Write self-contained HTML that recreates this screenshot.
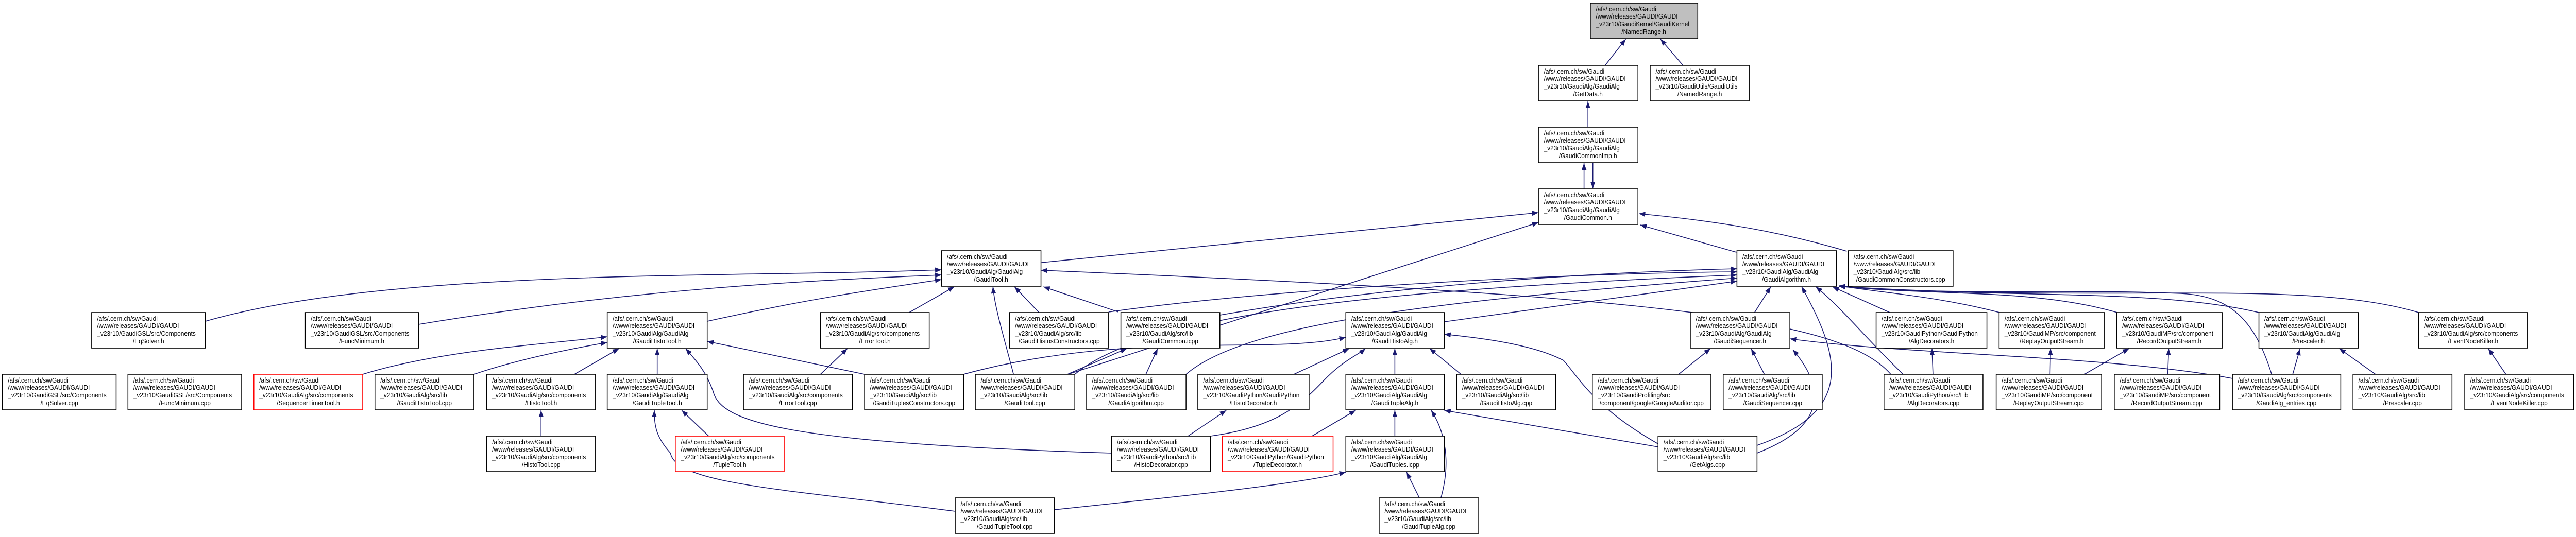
<!DOCTYPE html>
<html><head><meta charset="utf-8"><style>
html,body{margin:0;padding:0;background:#fff;width:100%;height:100%;overflow:hidden}
svg{display:block;width:100vw;height:100vh}
.n rect{fill:#fff;stroke:#000;stroke-width:1.6}
.n.g rect{fill:#bfbfbf}
.n.r rect{stroke:#ff0000}
text{font-family:"Liberation Sans",sans-serif;font-size:12.5px;fill:#000}
.e{fill:none;stroke:#191970;stroke-width:1.6}
</style></head><body>
<svg viewBox="0 0 5256 1043" preserveAspectRatio="none" xmlns="http://www.w3.org/2000/svg">
<defs><marker id="a" markerUnits="userSpaceOnUse" markerWidth="14" markerHeight="10" refX="13" refY="5" orient="auto"><path d="M0,0 L13,5 L0,10 z" fill="#191970"/></marker></defs>
<g id="edges" marker-end="url(#a)">
<path class="e" d="M3275,127 L3317,76"/>
<path class="e" d="M3434,127 L3388,76"/>
<path class="e" d="M3240,247 L3240,197"/>
<path class="e" d="M3232,367 L3232,317"/>
<path class="e" d="M3250,316 L3250,366"/>
<path class="e" d="M2125,510 L3139,413"/>
<path class="e" d="M2179,727 L3139,432"/>
<path class="e" d="M3543,490 L3347,437"/>
<path class="e" d="M3768,488 C3600,440 3450,425 3344,415"/>
<path class="e" d="M419,624 C800,520 1500,540 1921,524"/>
<path class="e" d="M854,630 C1300,560 1650,545 1921,534"/>
<path class="e" d="M1443,624 C1650,580 1800,560 1921,543"/>
<path class="e" d="M1855,607 L1947,557"/>
<path class="e" d="M2068,727 C2050,660 2030,600 2026,557"/>
<path class="e" d="M2120,607 L2070,557"/>
<path class="e" d="M2282,606 L2129,557"/>
<path class="e" d="M3858,727 C3760,620 3400,575 2124,525"/>
<path class="e" d="M740,727 C900,680 1100,670 1239,654"/>
<path class="e" d="M967,727 C1050,700 1150,680 1239,665"/>
<path class="e" d="M1172,727 L1263,677"/>
<path class="e" d="M1341,727 L1341,677"/>
<path class="e" d="M1764,727 L1443,663"/>
<path class="e" d="M2268,880 C1600,860 1470,820 1455,760 C1440,720 1420,700 1399,677"/>
<path class="e" d="M1446,847 L1391,797"/>
<path class="e" d="M1949,993 C1600,950 1380,940 1368,880 C1340,850 1335,830 1335,797"/>
<path class="e" d="M1104,847 L1104,797"/>
<path class="e" d="M1674,727 L1729,677"/>
<path class="e" d="M2178,727 L2299,677"/>
<path class="e" d="M2338,727 L2362,677"/>
<path class="e" d="M2262,606 C2600,560 3200,530 3544,528"/>
<path class="e" d="M2489,612 C2800,560 3200,530 3544,522"/>
<path class="e" d="M2193,727 C2350,600 2900,560 3544,534"/>
<path class="e" d="M2420,727 C2550,620 3000,580 3544,540"/>
<path class="e" d="M2947,625 L3544,546"/>
<path class="e" d="M3580,607 L3613,557"/>
<path class="e" d="M3585,865 C3780,800 3760,700 3676,557"/>
<path class="e" d="M3883,727 C3800,650 3760,600 3705,557"/>
<path class="e" d="M3856,607 L3739,557"/>
<path class="e" d="M4635,727 C4600,620 4550,575 4450,570 C4200,560 3950,575 3752,555"/>
<path class="e" d="M4080,607 C3950,575 3850,570 3752,555"/>
<path class="e" d="M4320,607 C4150,560 3950,575 3752,556"/>
<path class="e" d="M4609,607 C4400,560 4100,580 3752,556"/>
<path class="e" d="M4935,607 C4700,540 4300,590 3752,556"/>
<path class="e" d="M3425,727 L3490,677"/>
<path class="e" d="M3600,727 L3573,677"/>
<path class="e" d="M3585,880 C3720,830 3730,760 3658,679"/>
<path class="e" d="M4555,735 C4300,690 3900,690 3652,658"/>
<path class="e" d="M2640,727 L2753,677"/>
<path class="e" d="M2846,727 L2846,677"/>
<path class="e" d="M2981,727 L2917,677"/>
<path class="e" d="M3383,862 C3250,790 3220,731 3190,700 C3120,665 3000,655 2947,649"/>
<path class="e" d="M2470,847 C2600,830 2650,790 2700,740 C2740,700 2770,690 2786,677"/>
<path class="e" d="M1966,727 C2300,640 2600,690 2746,655"/>
<path class="e" d="M2677,847 L2766,797"/>
<path class="e" d="M2846,847 L2846,797"/>
<path class="e" d="M2940,967 C2960,900 2950,840 2920,797"/>
<path class="e" d="M3383,868 L2947,797"/>
<path class="e" d="M2424,847 L2502,797"/>
<path class="e" d="M2896,967 L2870,917"/>
<path class="e" d="M2151,990 C2450,960 2650,940 2746,917"/>
<path class="e" d="M3944,727 L3942,677"/>
<path class="e" d="M4183,727 L4184,677"/>
<path class="e" d="M4253,727 L4344,677"/>
<path class="e" d="M4423,727 L4425,677"/>
<path class="e" d="M4678,727 L4693,677"/>
<path class="e" d="M4847,727 L4773,677"/>
<path class="e" d="M5113,727 L5077,677"/>
</g>
<g id="nodes">
<g class="n g"><rect x="3245" y="6" width="219" height="69"/><text x="3256" y="22">/afs/.cern.ch/sw/Gaudi</text><text x="3256" y="36">/www/releases/GAUDI/GAUDI</text><text x="3256" y="51">_v23r10/GaudiKernel/GaudiKernel</text><text x="3354" y="66" text-anchor="middle">/NamedRange.h</text></g>
<g class="n"><rect x="3139" y="127" width="203" height="69"/><text x="3150" y="143">/afs/.cern.ch/sw/Gaudi</text><text x="3150" y="157">/www/releases/GAUDI/GAUDI</text><text x="3150" y="172">_v23r10/GaudiAlg/GaudiAlg</text><text x="3240" y="187" text-anchor="middle">/GetData.h</text></g>
<g class="n"><rect x="3367" y="127" width="202" height="69"/><text x="3378" y="143">/afs/.cern.ch/sw/Gaudi</text><text x="3378" y="157">/www/releases/GAUDI/GAUDI</text><text x="3378" y="172">_v23r10/GaudiUtils/GaudiUtils</text><text x="3468" y="187" text-anchor="middle">/NamedRange.h</text></g>
<g class="n"><rect x="3139" y="247" width="203" height="69"/><text x="3150" y="263">/afs/.cern.ch/sw/Gaudi</text><text x="3150" y="277">/www/releases/GAUDI/GAUDI</text><text x="3150" y="292">_v23r10/GaudiAlg/GaudiAlg</text><text x="3240" y="307" text-anchor="middle">/GaudiCommonImp.h</text></g>
<g class="n"><rect x="3139" y="367" width="203" height="69"/><text x="3150" y="383">/afs/.cern.ch/sw/Gaudi</text><text x="3150" y="397">/www/releases/GAUDI/GAUDI</text><text x="3150" y="412">_v23r10/GaudiAlg/GaudiAlg</text><text x="3240" y="427" text-anchor="middle">/GaudiCommon.h</text></g>
<g class="n"><rect x="1921" y="487" width="203" height="69"/><text x="1932" y="503">/afs/.cern.ch/sw/Gaudi</text><text x="1932" y="517">/www/releases/GAUDI/GAUDI</text><text x="1932" y="532">_v23r10/GaudiAlg/GaudiAlg</text><text x="2022" y="547" text-anchor="middle">/GaudiTool.h</text></g>
<g class="n"><rect x="3544" y="487" width="203" height="69"/><text x="3555" y="503">/afs/.cern.ch/sw/Gaudi</text><text x="3555" y="517">/www/releases/GAUDI/GAUDI</text><text x="3555" y="532">_v23r10/GaudiAlg/GaudiAlg</text><text x="3645" y="547" text-anchor="middle">/GaudiAlgorithm.h</text></g>
<g class="n"><rect x="3771" y="487" width="214" height="69"/><text x="3782" y="503">/afs/.cern.ch/sw/Gaudi</text><text x="3782" y="517">/www/releases/GAUDI/GAUDI</text><text x="3782" y="532">_v23r10/GaudiAlg/src/lib</text><text x="3878" y="547" text-anchor="middle">/GaudiCommonConstructors.cpp</text></g>

<g class="n"><rect x="187" y="607" width="232" height="69"/><text x="198" y="623">/afs/.cern.ch/sw/Gaudi</text><text x="198" y="637">/www/releases/GAUDI/GAUDI</text><text x="198" y="652">_v23r10/GaudiGSL/src/Components</text><text x="303" y="667" text-anchor="middle">/EqSolver.h</text></g>
<g class="n"><rect x="623" y="607" width="231" height="69"/><text x="634" y="623">/afs/.cern.ch/sw/Gaudi</text><text x="634" y="637">/www/releases/GAUDI/GAUDI</text><text x="634" y="652">_v23r10/GaudiGSL/src/Components</text><text x="738" y="667" text-anchor="middle">/FuncMinimum.h</text></g>
<g class="n"><rect x="1239" y="607" width="204" height="69"/><text x="1250" y="623">/afs/.cern.ch/sw/Gaudi</text><text x="1250" y="637">/www/releases/GAUDI/GAUDI</text><text x="1250" y="652">_v23r10/GaudiAlg/GaudiAlg</text><text x="1341" y="667" text-anchor="middle">/GaudiHistoTool.h</text></g>
<g class="n"><rect x="1674" y="607" width="222" height="69"/><text x="1685" y="623">/afs/.cern.ch/sw/Gaudi</text><text x="1685" y="637">/www/releases/GAUDI/GAUDI</text><text x="1685" y="652">_v23r10/GaudiAlg/src/components</text><text x="1785" y="667" text-anchor="middle">/ErrorTool.h</text></g>
<g class="n"><rect x="2060" y="607" width="202" height="69"/><text x="2071" y="623">/afs/.cern.ch/sw/Gaudi</text><text x="2071" y="637">/www/releases/GAUDI/GAUDI</text><text x="2071" y="652">_v23r10/GaudiAlg/src/lib</text><text x="2161" y="667" text-anchor="middle">/GaudiHistosConstructors.cpp</text></g>
<g class="n"><rect x="2287" y="607" width="202" height="69"/><text x="2298" y="623">/afs/.cern.ch/sw/Gaudi</text><text x="2298" y="637">/www/releases/GAUDI/GAUDI</text><text x="2298" y="652">_v23r10/GaudiAlg/src/lib</text><text x="2388" y="667" text-anchor="middle">/GaudiCommon.icpp</text></g>
<g class="n"><rect x="2746" y="607" width="201" height="69"/><text x="2757" y="623">/afs/.cern.ch/sw/Gaudi</text><text x="2757" y="637">/www/releases/GAUDI/GAUDI</text><text x="2757" y="652">_v23r10/GaudiAlg/GaudiAlg</text><text x="2846" y="667" text-anchor="middle">/GaudiHistoAlg.h</text></g>
<g class="n"><rect x="3449" y="607" width="203" height="69"/><text x="3460" y="623">/afs/.cern.ch/sw/Gaudi</text><text x="3460" y="637">/www/releases/GAUDI/GAUDI</text><text x="3460" y="652">_v23r10/GaudiAlg/GaudiAlg</text><text x="3550" y="667" text-anchor="middle">/GaudiSequencer.h</text></g>
<g class="n"><rect x="3828" y="607" width="226" height="69"/><text x="3839" y="623">/afs/.cern.ch/sw/Gaudi</text><text x="3839" y="637">/www/releases/GAUDI/GAUDI</text><text x="3839" y="652">_v23r10/GaudiPython/GaudiPython</text><text x="3941" y="667" text-anchor="middle">/AlgDecorators.h</text></g>
<g class="n"><rect x="4079" y="607" width="215" height="69"/><text x="4090" y="623">/afs/.cern.ch/sw/Gaudi</text><text x="4090" y="637">/www/releases/GAUDI/GAUDI</text><text x="4090" y="652">_v23r10/GaudiMP/src/component</text><text x="4186" y="667" text-anchor="middle">/ReplayOutputStream.h</text></g>
<g class="n"><rect x="4319" y="607" width="215" height="69"/><text x="4330" y="623">/afs/.cern.ch/sw/Gaudi</text><text x="4330" y="637">/www/releases/GAUDI/GAUDI</text><text x="4330" y="652">_v23r10/GaudiMP/src/component</text><text x="4426" y="667" text-anchor="middle">/RecordOutputStream.h</text></g>
<g class="n"><rect x="4609" y="607" width="203" height="69"/><text x="4620" y="623">/afs/.cern.ch/sw/Gaudi</text><text x="4620" y="637">/www/releases/GAUDI/GAUDI</text><text x="4620" y="652">_v23r10/GaudiAlg/GaudiAlg</text><text x="4710" y="667" text-anchor="middle">/Prescaler.h</text></g>
<g class="n"><rect x="4935" y="607" width="222" height="69"/><text x="4946" y="623">/afs/.cern.ch/sw/Gaudi</text><text x="4946" y="637">/www/releases/GAUDI/GAUDI</text><text x="4946" y="652">_v23r10/GaudiAlg/src/components</text><text x="5046" y="667" text-anchor="middle">/EventNodeKiller.h</text></g>

<g class="n"><rect x="5" y="727" width="232" height="69"/><text x="16" y="743">/afs/.cern.ch/sw/Gaudi</text><text x="16" y="757">/www/releases/GAUDI/GAUDI</text><text x="16" y="772">_v23r10/GaudiGSL/src/Components</text><text x="121" y="787" text-anchor="middle">/EqSolver.cpp</text></g>
<g class="n"><rect x="261" y="727" width="232" height="69"/><text x="272" y="743">/afs/.cern.ch/sw/Gaudi</text><text x="272" y="757">/www/releases/GAUDI/GAUDI</text><text x="272" y="772">_v23r10/GaudiGSL/src/Components</text><text x="377" y="787" text-anchor="middle">/FuncMinimum.cpp</text></g>
<g class="n r"><rect x="518" y="727" width="222" height="69"/><text x="529" y="743">/afs/.cern.ch/sw/Gaudi</text><text x="529" y="757">/www/releases/GAUDI/GAUDI</text><text x="529" y="772">_v23r10/GaudiAlg/src/components</text><text x="629" y="787" text-anchor="middle">/SequencerTimerTool.h</text></g>
<g class="n"><rect x="765" y="727" width="202" height="69"/><text x="776" y="743">/afs/.cern.ch/sw/Gaudi</text><text x="776" y="757">/www/releases/GAUDI/GAUDI</text><text x="776" y="772">_v23r10/GaudiAlg/src/lib</text><text x="866" y="787" text-anchor="middle">/GaudiHistoTool.cpp</text></g>
<g class="n"><rect x="993" y="727" width="222" height="69"/><text x="1004" y="743">/afs/.cern.ch/sw/Gaudi</text><text x="1004" y="757">/www/releases/GAUDI/GAUDI</text><text x="1004" y="772">_v23r10/GaudiAlg/src/components</text><text x="1104" y="787" text-anchor="middle">/HistoTool.h</text></g>
<g class="n"><rect x="1239" y="727" width="204" height="69"/><text x="1250" y="743">/afs/.cern.ch/sw/Gaudi</text><text x="1250" y="757">/www/releases/GAUDI/GAUDI</text><text x="1250" y="772">_v23r10/GaudiAlg/GaudiAlg</text><text x="1341" y="787" text-anchor="middle">/GaudiTupleTool.h</text></g>
<g class="n"><rect x="1517" y="727" width="222" height="69"/><text x="1528" y="743">/afs/.cern.ch/sw/Gaudi</text><text x="1528" y="757">/www/releases/GAUDI/GAUDI</text><text x="1528" y="772">_v23r10/GaudiAlg/src/components</text><text x="1628" y="787" text-anchor="middle">/ErrorTool.cpp</text></g>
<g class="n"><rect x="1764" y="727" width="202" height="69"/><text x="1775" y="743">/afs/.cern.ch/sw/Gaudi</text><text x="1775" y="757">/www/releases/GAUDI/GAUDI</text><text x="1775" y="772">_v23r10/GaudiAlg/src/lib</text><text x="1865" y="787" text-anchor="middle">/GaudiTuplesConstructors.cpp</text></g>
<g class="n"><rect x="1990" y="727" width="203" height="69"/><text x="2001" y="743">/afs/.cern.ch/sw/Gaudi</text><text x="2001" y="757">/www/releases/GAUDI/GAUDI</text><text x="2001" y="772">_v23r10/GaudiAlg/src/lib</text><text x="2091" y="787" text-anchor="middle">/GaudiTool.cpp</text></g>
<g class="n"><rect x="2217" y="727" width="203" height="69"/><text x="2228" y="743">/afs/.cern.ch/sw/Gaudi</text><text x="2228" y="757">/www/releases/GAUDI/GAUDI</text><text x="2228" y="772">_v23r10/GaudiAlg/src/lib</text><text x="2318" y="787" text-anchor="middle">/GaudiAlgorithm.cpp</text></g>
<g class="n"><rect x="2444" y="727" width="227" height="69"/><text x="2455" y="743">/afs/.cern.ch/sw/Gaudi</text><text x="2455" y="757">/www/releases/GAUDI/GAUDI</text><text x="2455" y="772">_v23r10/GaudiPython/GaudiPython</text><text x="2557" y="787" text-anchor="middle">/HistoDecorator.h</text></g>
<g class="n"><rect x="2746" y="727" width="201" height="69"/><text x="2757" y="743">/afs/.cern.ch/sw/Gaudi</text><text x="2757" y="757">/www/releases/GAUDI/GAUDI</text><text x="2757" y="772">_v23r10/GaudiAlg/GaudiAlg</text><text x="2846" y="787" text-anchor="middle">/GaudiTupleAlg.h</text></g>
<g class="n"><rect x="2972" y="727" width="202" height="69"/><text x="2983" y="743">/afs/.cern.ch/sw/Gaudi</text><text x="2983" y="757">/www/releases/GAUDI/GAUDI</text><text x="2983" y="772">_v23r10/GaudiAlg/src/lib</text><text x="3073" y="787" text-anchor="middle">/GaudiHistoAlg.cpp</text></g>
<g class="n"><rect x="3249" y="727" width="242" height="69"/><text x="3260" y="743">/afs/.cern.ch/sw/Gaudi</text><text x="3260" y="757">/www/releases/GAUDI/GAUDI</text><text x="3260" y="772">_v23r10/GaudiProfiling/src</text><text x="3370" y="787" text-anchor="middle">/component/google/GoogleAuditor.cpp</text></g>
<g class="n"><rect x="3516" y="727" width="202" height="69"/><text x="3527" y="743">/afs/.cern.ch/sw/Gaudi</text><text x="3527" y="757">/www/releases/GAUDI/GAUDI</text><text x="3527" y="772">_v23r10/GaudiAlg/src/lib</text><text x="3617" y="787" text-anchor="middle">/GaudiSequencer.cpp</text></g>
<g class="n"><rect x="3844" y="727" width="202" height="69"/><text x="3855" y="743">/afs/.cern.ch/sw/Gaudi</text><text x="3855" y="757">/www/releases/GAUDI/GAUDI</text><text x="3855" y="772">_v23r10/GaudiPython/src/Lib</text><text x="3945" y="787" text-anchor="middle">/AlgDecorators.cpp</text></g>
<g class="n"><rect x="4073" y="727" width="215" height="69"/><text x="4084" y="743">/afs/.cern.ch/sw/Gaudi</text><text x="4084" y="757">/www/releases/GAUDI/GAUDI</text><text x="4084" y="772">_v23r10/GaudiMP/src/component</text><text x="4180" y="787" text-anchor="middle">/ReplayOutputStream.cpp</text></g>
<g class="n"><rect x="4314" y="727" width="215" height="69"/><text x="4325" y="743">/afs/.cern.ch/sw/Gaudi</text><text x="4325" y="757">/www/releases/GAUDI/GAUDI</text><text x="4325" y="772">_v23r10/GaudiMP/src/component</text><text x="4421" y="787" text-anchor="middle">/RecordOutputStream.cpp</text></g>
<g class="n"><rect x="4555" y="727" width="221" height="69"/><text x="4566" y="743">/afs/.cern.ch/sw/Gaudi</text><text x="4566" y="757">/www/releases/GAUDI/GAUDI</text><text x="4566" y="772">_v23r10/GaudiAlg/src/components</text><text x="4665" y="787" text-anchor="middle">/GaudiAlg_entries.cpp</text></g>
<g class="n"><rect x="4801" y="727" width="202" height="69"/><text x="4812" y="743">/afs/.cern.ch/sw/Gaudi</text><text x="4812" y="757">/www/releases/GAUDI/GAUDI</text><text x="4812" y="772">_v23r10/GaudiAlg/src/lib</text><text x="4902" y="787" text-anchor="middle">/Prescaler.cpp</text></g>
<g class="n"><rect x="5029" y="727" width="222" height="69"/><text x="5040" y="743">/afs/.cern.ch/sw/Gaudi</text><text x="5040" y="757">/www/releases/GAUDI/GAUDI</text><text x="5040" y="772">_v23r10/GaudiAlg/src/components</text><text x="5140" y="787" text-anchor="middle">/EventNodeKiller.cpp</text></g>

<g class="n"><rect x="993" y="847" width="222" height="69"/><text x="1004" y="863">/afs/.cern.ch/sw/Gaudi</text><text x="1004" y="877">/www/releases/GAUDI/GAUDI</text><text x="1004" y="892">_v23r10/GaudiAlg/src/components</text><text x="1104" y="907" text-anchor="middle">/HistoTool.cpp</text></g>
<g class="n r"><rect x="1378" y="847" width="222" height="69"/><text x="1389" y="863">/afs/.cern.ch/sw/Gaudi</text><text x="1389" y="877">/www/releases/GAUDI/GAUDI</text><text x="1389" y="892">_v23r10/GaudiAlg/src/components</text><text x="1489" y="907" text-anchor="middle">/TupleTool.h</text></g>
<g class="n"><rect x="2268" y="847" width="202" height="69"/><text x="2279" y="863">/afs/.cern.ch/sw/Gaudi</text><text x="2279" y="877">/www/releases/GAUDI/GAUDI</text><text x="2279" y="892">_v23r10/GaudiPython/src/Lib</text><text x="2369" y="907" text-anchor="middle">/HistoDecorator.cpp</text></g>
<g class="n r"><rect x="2494" y="847" width="226" height="69"/><text x="2505" y="863">/afs/.cern.ch/sw/Gaudi</text><text x="2505" y="877">/www/releases/GAUDI/GAUDI</text><text x="2505" y="892">_v23r10/GaudiPython/GaudiPython</text><text x="2607" y="907" text-anchor="middle">/TupleDecorator.h</text></g>
<g class="n"><rect x="2746" y="847" width="201" height="69"/><text x="2757" y="863">/afs/.cern.ch/sw/Gaudi</text><text x="2757" y="877">/www/releases/GAUDI/GAUDI</text><text x="2757" y="892">_v23r10/GaudiAlg/GaudiAlg</text><text x="2846" y="907" text-anchor="middle">/GaudiTuples.icpp</text></g>
<g class="n"><rect x="3383" y="847" width="202" height="69"/><text x="3394" y="863">/afs/.cern.ch/sw/Gaudi</text><text x="3394" y="877">/www/releases/GAUDI/GAUDI</text><text x="3394" y="892">_v23r10/GaudiAlg/src/lib</text><text x="3484" y="907" text-anchor="middle">/GetAlgs.cpp</text></g>

<g class="n"><rect x="1949" y="967" width="202" height="69"/><text x="1960" y="983">/afs/.cern.ch/sw/Gaudi</text><text x="1960" y="997">/www/releases/GAUDI/GAUDI</text><text x="1960" y="1012">_v23r10/GaudiAlg/src/lib</text><text x="2050" y="1027" text-anchor="middle">/GaudiTupleTool.cpp</text></g>
<g class="n"><rect x="2814" y="967" width="203" height="69"/><text x="2825" y="983">/afs/.cern.ch/sw/Gaudi</text><text x="2825" y="997">/www/releases/GAUDI/GAUDI</text><text x="2825" y="1012">_v23r10/GaudiAlg/src/lib</text><text x="2915" y="1027" text-anchor="middle">/GaudiTupleAlg.cpp</text></g>
</g>
</svg>
</body></html>
